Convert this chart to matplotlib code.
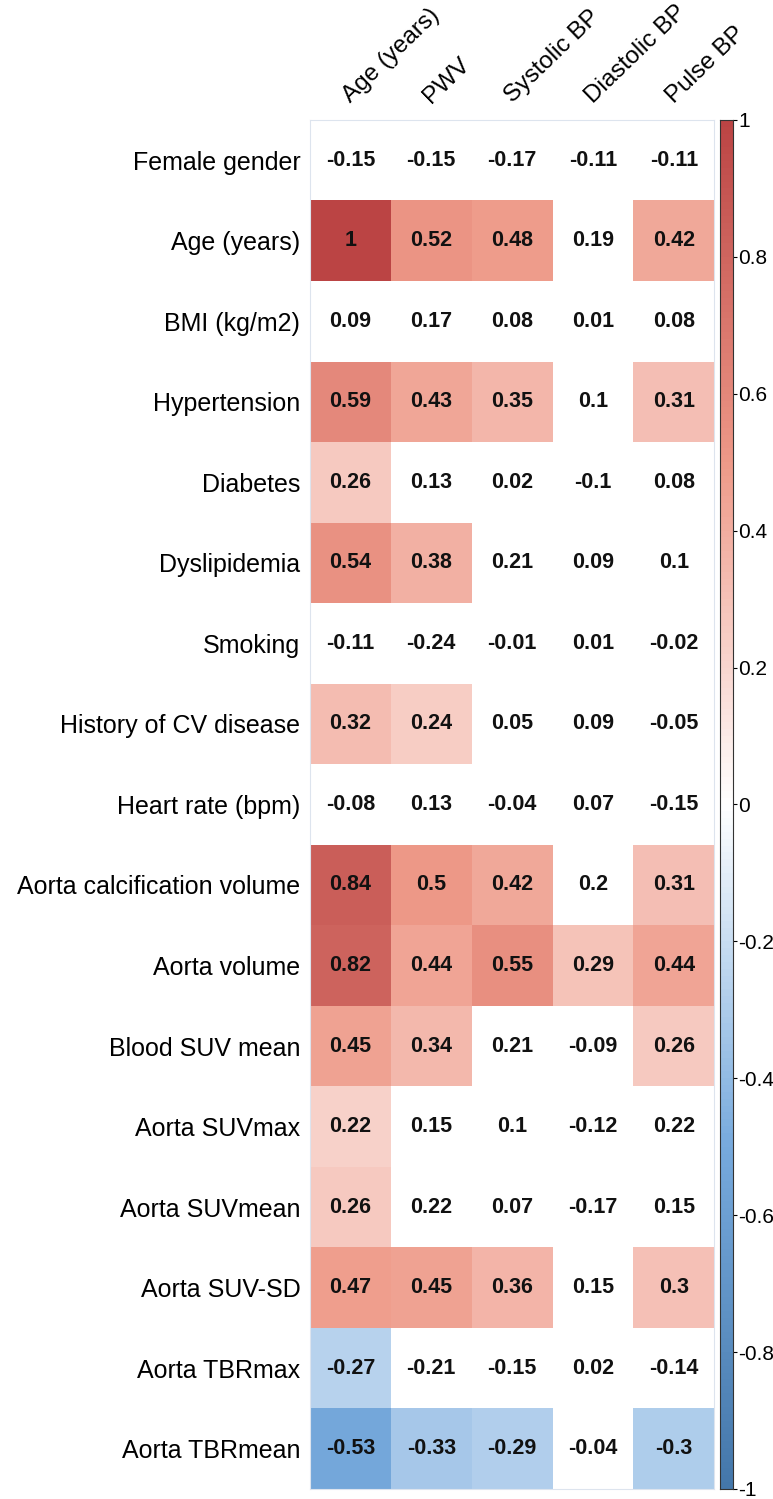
import numpy as np
import matplotlib
matplotlib.use("Agg")
import matplotlib.pyplot as plt
from matplotlib.colors import LinearSegmentedColormap

plt.rcParams['font.family'] = ['Liberation Sans', 'DejaVu Sans']

# rows / columns of the correlation matrix
rows = ["Female gender", "Age (years)", "BMI (kg/m2)", "Hypertension", "Diabetes",
        "Dyslipidemia", "Smoking", "History of CV disease", "Heart rate (bpm)",
        "Aorta calcification volume", "Aorta volume", "Blood SUV mean",
        "Aorta SUVmax", "Aorta SUVmean", "Aorta SUV-SD", "Aorta TBRmax", "Aorta TBRmean"]
cols = ["Age (years)", "PWV", "Systolic BP", "Diastolic BP", "Pulse BP"]

r = [
    [-0.15, -0.15, -0.17, -0.11, -0.11],
    [1, 0.52, 0.48, 0.19, 0.42],
    [0.09, 0.17, 0.08, 0.01, 0.08],
    [0.59, 0.43, 0.35, 0.1, 0.31],
    [0.26, 0.13, 0.02, -0.1, 0.08],
    [0.54, 0.38, 0.21, 0.09, 0.1],
    [-0.11, -0.24, -0.01, 0.01, -0.02],
    [0.32, 0.24, 0.05, 0.09, -0.05],
    [-0.08, 0.13, -0.04, 0.07, -0.15],
    [0.84, 0.5, 0.42, 0.2, 0.31],
    [0.82, 0.44, 0.55, 0.29, 0.44],
    [0.45, 0.34, 0.21, -0.09, 0.26],
    [0.22, 0.15, 0.1, -0.12, 0.22],
    [0.26, 0.22, 0.07, -0.17, 0.15],
    [0.47, 0.45, 0.36, 0.15, 0.3],
    [-0.27, -0.21, -0.15, 0.02, -0.14],
    [-0.53, -0.33, -0.29, -0.04, -0.3],
]

# 1 = significant (cell coloured), 0 = blank
sig = [
    [0, 0, 0, 0, 0],
    [1, 1, 1, 0, 1],
    [0, 0, 0, 0, 0],
    [1, 1, 1, 0, 1],
    [1, 0, 0, 0, 0],
    [1, 1, 0, 0, 0],
    [0, 0, 0, 0, 0],
    [1, 1, 0, 0, 0],
    [0, 0, 0, 0, 0],
    [1, 1, 1, 0, 1],
    [1, 1, 1, 1, 1],
    [1, 1, 0, 0, 1],
    [1, 0, 0, 0, 0],
    [1, 0, 0, 0, 0],
    [1, 1, 1, 0, 1],
    [1, 0, 0, 0, 0],
    [1, 1, 1, 0, 1],
]

r = np.array(r, dtype=float)
sig = np.array(sig, dtype=bool)

cmap = LinearSegmentedColormap.from_list(
    "corr", ["#4477AA", "#77AADD", "#FFFFFF", "#EE9988", "#BB4444"], N=200)

fig = plt.figure(figsize=(7.73, 14.99), dpi=100)
ax = fig.add_axes([0.401, 0.0067, 0.523, 0.9133])

shown = np.ma.masked_where(~sig, r)
ax.pcolormesh(np.arange(len(cols) + 1), np.arange(len(rows) + 1), shown,
              cmap=cmap, vmin=-1, vmax=1)
ax.set_xlim(0, len(cols))
ax.set_ylim(len(rows), 0)

for i in range(len(rows)):
    for j in range(len(cols)):
        v = r[i, j]
        txt = "1" if v == 1 else ("%.2f" % v).rstrip("0")
        ax.text(j + 0.5, i + 0.5, txt, ha="center", va="center",
                fontsize=15.5, fontweight="bold", color="#111111")

ax.set_yticks(np.arange(len(rows)) + 0.5)
ax.set_yticklabels(rows, fontsize=18)
ax.tick_params(axis="y", length=0, pad=7)
ax.set_xticks([])
for j, c in enumerate(cols):
    ax.text(j + 0.5, -0.2, c, rotation=44, rotation_mode="anchor",
            ha="left", va="baseline", fontsize=17.5)
for s in ax.spines.values():
    s.set_color("#dde4ee")
    s.set_linewidth(0.8)

# colour bar
cax = fig.add_axes([0.931, 0.0067, 0.017, 0.9133])
grad = np.linspace(-1, 1, 200).reshape(-1, 1)
cax.pcolormesh([0, 1], np.linspace(-1, 1, 201), grad, cmap=cmap, vmin=-1, vmax=1)
cax.set_ylim(-1, 1)
cax.set_xlim(0, 1)
cax.set_xticks([])
ticks = np.round(np.arange(-1, 1.01, 0.2), 1)
cax.yaxis.tick_right()
cax.set_yticks(ticks)
cax.set_yticklabels(["%g" % t if t != 0 else "0" for t in ticks], fontsize=15)
cax.tick_params(axis="y", length=3, width=0.8, pad=1)
for s in cax.spines.values():
    s.set_color("#333333")
    s.set_linewidth(0.8)

fig.savefig("out.png", dpi=100)
